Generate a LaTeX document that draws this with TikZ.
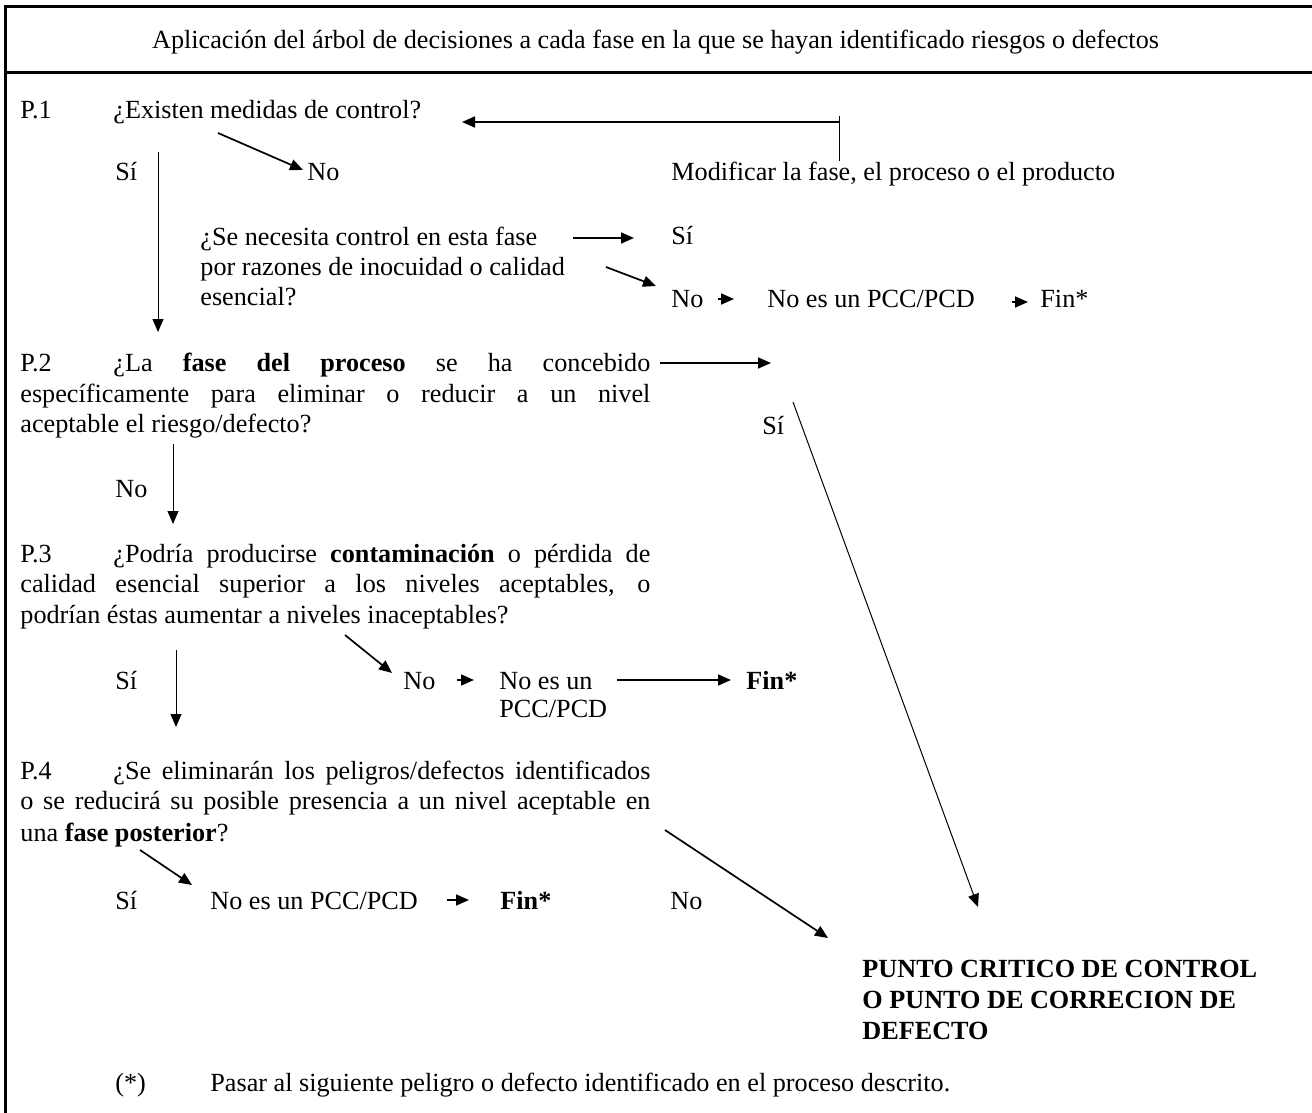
\documentclass[tikz,border=0pt]{standalone}
\usepackage{fontspec}
\setmainfont{Liberation Serif}
\usetikzlibrary{arrows.meta}
\begin{document}
\begin{tikzpicture}[x=0.5pt,y=-0.5pt,
  tx/.style={anchor=base west,inner sep=0pt,font=\fontsize{13.1}{15.25}\selectfont},
  arr/.style={line width=0.85pt,-{Triangle[length=6.5pt,width=5.5pt]}},
  thinarr/.style={line width=0.5pt,-{Triangle[length=6.5pt,width=5.5pt]}},
  thinline/.style={line width=0.5pt},
  frame/.style={line width=1.5pt}]
\useasboundingbox (0,0) rectangle (1312,1113);
% frame
\coordinate (fTL) at (5,7);
\coordinate (fTR) at (1312,7);
\coordinate (fBL) at (5,1113);
\coordinate (sL) at (5,73);
\coordinate (sR) at (1312,73);
\draw[frame] (fBL) -- (fTL) -- (fTR);
\draw[frame] (sL) -- (sR);
% header
\node[tx,anchor=base] (hdr) at (655.5,49) {Aplicación del árbol de decisiones a cada fase en la que se hayan identificado riesgos o defectos};
% P.1
\node[tx] (p1n) at (20,119) {P.1};
\node[tx] (p1q) at (113,119) {¿Existen medidas de control?};
\node[tx] (si1) at (115,181) {Sí};
\node[tx] (no1) at (307,181) {No};
\node[tx] (mod) at (671,181) {Modificar la fase, el proceso o el producto};
\node[tx] (q1a) at (200,245) {¿Se necesita control en esta fase};
\node[tx] (q1b) at (200,275) {por razones de inocuidad o calidad};
\node[tx] (q1c) at (200,305) {esencial?};
\node[tx] (si2) at (671,244) {Sí};
\node[tx] (no2) at (671,307) {No};
\node[tx] (npcc1) at (767,307) {No es un PCC/PCD};
\node[tx] (fin1) at (1040,307) {Fin*};
% P.2
\node[tx] (p2a) at (20,371) {\makebox[315pt][s]{\makebox[46.5pt][l]{P.2}¿La \textbf{fase del proceso} se ha concebido}};
\node[tx] (p2b) at (20,402) {\makebox[315pt][s]{específicamente para eliminar o reducir a un nivel}};
\node[tx] (p2c) at (20,432) {aceptable el riesgo/defecto?};
\node[tx] (si3) at (762,434) {Sí};
\node[tx] (no3) at (115,497) {No};
% P.3
\node[tx] (p3a) at (20,562) {\makebox[315pt][s]{\makebox[46.5pt][l]{P.3}¿Podría producirse \textbf{contaminación} o pérdida de}};
\node[tx] (p3b) at (20,592) {\makebox[315pt][s]{calidad esencial superior a los niveles aceptables, o}};
\node[tx] (p3c) at (20,623) {podrían éstas aumentar a niveles inaceptables?};
\node[tx] (si4) at (115,689) {Sí};
\node[tx] (no4) at (403,689) {No};
\node[tx] (npcc2a) at (499,689) {No es un};
\node[tx] (npcc2b) at (499,717) {PCC/PCD};
\node[tx] (fin2) at (746,689) {\textbf{Fin*}};
% P.4
\node[tx] (p4a) at (20,779) {\makebox[315pt][s]{\makebox[46.5pt][l]{P.4}¿Se eliminarán los peligros/defectos identificados}};
\node[tx] (p4b) at (20,809) {\makebox[315pt][s]{o se reducirá su posible presencia a un nivel aceptable en}};
\node[tx] (p4c) at (20,841) {una \textbf{fase posterior}?};
\node[tx] (si5) at (115,909) {Sí};
\node[tx] (npcc3) at (210,909) {No es un PCC/PCD};
\node[tx] (fin3) at (500,909) {\textbf{Fin*}};
\node[tx] (no5) at (670,909) {No};
% result
\node[tx] (pcca) at (862,977) {\textbf{PUNTO CRITICO DE CONTROL}};
\node[tx] (pccb) at (862,1008) {\textbf{O PUNTO DE CORRECION DE}};
\node[tx] (pccc) at (862,1039) {\textbf{DEFECTO}};
% footnote
\node[tx] (ast) at (115,1091) {(*)};
\node[tx] (pasar) at (210,1091) {Pasar al siguiente peligro o defecto identificado en el proceso descrito.};
% connector coordinates
\coordinate (m1) at (839,122);
\coordinate (m0) at (839,116);
\coordinate (m2) at (839,161);
\coordinate (e1) at (462,122);
\coordinate (v1s) at (158,152);
\coordinate (v1e) at (158,332);
\coordinate (d1s) at (218,133);
\coordinate (d1e) at (303,170);
\coordinate (h1s) at (573,238);
\coordinate (h1e) at (634,238);
\coordinate (d2s) at (606,267);
\coordinate (d2e) at (656,286);
\coordinate (s1s) at (718,299);
\coordinate (s1e) at (734,299);
\coordinate (s2s) at (1012,302);
\coordinate (s2e) at (1028,302);
\coordinate (h2s) at (660,363);
\coordinate (h2e) at (771,363);
\coordinate (d3s) at (793,402);
\coordinate (d3e) at (978,907);
\coordinate (v2s) at (173,444);
\coordinate (v2e) at (173,524);
\coordinate (v3s) at (176,650);
\coordinate (v3e) at (176,727);
\coordinate (d4s) at (345,635);
\coordinate (d4e) at (392,673);
\coordinate (s3s) at (457,680);
\coordinate (s3e) at (474,680);
\coordinate (h3s) at (617,680);
\coordinate (h3e) at (731,680);
\coordinate (d5s) at (140,850);
\coordinate (d5e) at (192,885);
\coordinate (s4s) at (447,900);
\coordinate (s4e) at (469,900);
\coordinate (d6s) at (665,830);
\coordinate (d6e) at (828,938);
% connectors
\draw[thinline] (m0) -- (m2);
\draw[arr] (m1) -- (e1);
\draw[thinarr] (v1s) -- (v1e);
\draw[arr] (d1s) -- (d1e);
\draw[arr] (h1s) -- (h1e);
\draw[arr] (d2s) -- (d2e);
\draw[arr] (s1s) -- (s1e);
\draw[arr] (s2s) -- (s2e);
\draw[arr] (h2s) -- (h2e);
\draw[thinarr] (d3s) -- (d3e);
\draw[thinarr] (v2s) -- (v2e);
\draw[thinarr] (v3s) -- (v3e);
\draw[arr] (d4s) -- (d4e);
\draw[arr] (s3s) -- (s3e);
\draw[arr] (h3s) -- (h3e);
\draw[arr] (d5s) -- (d5e);
\draw[arr] (s4s) -- (s4e);
\draw[arr] (d6s) -- (d6e);
\end{tikzpicture}
\end{document}
